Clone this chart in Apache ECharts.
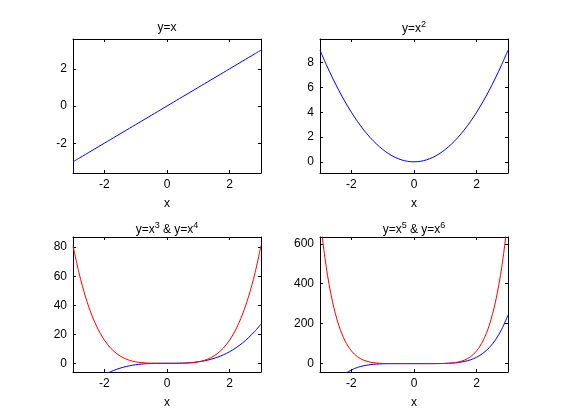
<!DOCTYPE html>
<html>
<head>
<meta charset="utf-8">
<script src="https://cdn.jsdelivr.net/npm/echarts@6/dist/echarts.min.js"></script>
<style>
html,body{margin:0;padding:0;background:#fff;}
#chart{width:561px;height:420px;}
</style>
</head>
<body>
<div id="chart"></div>
<script>
// Sample x positions
var xValues = [-3,-2.8,-2.6,-2.4,-2.2,-2,-1.8,-1.6,-1.4,-1.2,-1,-0.8,-0.6,-0.4,-0.2,0,0.2,0.4,0.6,0.8,1,1.2,1.4,1.6,1.8,2,2.2,2.4,2.6,2.8,3];
// y = x
var y1 = [-3,-2.8,-2.6,-2.4,-2.2,-2,-1.8,-1.6,-1.4,-1.2,-1,-0.8,-0.6,-0.4,-0.2,0,0.2,0.4,0.6,0.8,1,1.2,1.4,1.6,1.8,2,2.2,2.4,2.6,2.8,3];
// y = x^2
var y2 = [9,7.84,6.76,5.76,4.84,4,3.24,2.56,1.96,1.44,1,0.64,0.36,0.16,0.04,0,0.04,0.16,0.36,0.64,1,1.44,1.96,2.56,3.24,4,4.84,5.76,6.76,7.84,9];
// y = x^3
var y3 = [-27,-21.95,-17.58,-13.82,-10.65,-8,-5.83,-4.1,-2.74,-1.73,-1,-0.51,-0.22,-0.06,-0.01,0,0.01,0.06,0.22,0.51,1,1.73,2.74,4.1,5.83,8,10.65,13.82,17.58,21.95,27];
// y = x^4
var y4 = [81,61.47,45.7,33.18,23.43,16,10.5,6.55,3.84,2.07,1,0.41,0.13,0.03,0,0,0,0.03,0.13,0.41,1,2.07,3.84,6.55,10.5,16,23.43,33.18,45.7,61.47,81];
// y = x^5
var y5 = [-243,-172.1,-118.81,-79.63,-51.54,-32,-18.9,-10.49,-5.38,-2.49,-1,-0.33,-0.08,-0.01,0,0,0,0.01,0.08,0.33,1,2.49,5.38,10.49,18.9,32,51.54,79.63,118.81,172.1,243];
// y = x^6
var y6 = [729,481.89,308.92,191.1,113.38,64,34.01,16.78,7.53,2.99,1,0.26,0.05,0,0,0,0,0,0.05,0.26,1,2.99,7.53,16.78,34.01,64,113.38,191.1,308.92,481.89,729];

var xTicks = [-2,0,2];
var yTicks1 = [-2,0,2];
var yTicks2 = [0,2,4,6,8];
var yTicks3 = [0,20,40,60,80];
var yTicks4 = [0,200,400,600];

var FONT = 'Liberation Sans, Arial, Helvetica, sans-serif';

function pairs(xs, ys){ return xs.map(function(x,i){ return [x, ys[i]]; }); }

var grids = [
  {left:73, top:39, width:188, height:134},
  {left:320, top:39, width:188, height:134},
  {left:73, top:237, width:188, height:135},
  {left:320, top:237, width:188, height:135}
];
var yRanges = [[-3.6,3.6],[-0.9,9.9],[-6,87],[-42,634]];
var yTickSets = [yTicks1,yTicks2,yTicks3,yTicks4];

var xAxes = [], yAxes = [];
grids.forEach(function(g, i){
  xAxes.push({
    type:'value', gridIndex:i, min:-3, max:3, position:'bottom',
    name:'x', nameLocation:'middle', nameGap:25,
    nameTextStyle:{color:'#000', fontSize:12, fontFamily:FONT},
    axisLine:{show:true, onZero:false, lineStyle:{color:'#000', width:1}},
    axisTick:{show:true, inside:true, length:3, customValues:xTicks, lineStyle:{color:'#000'}},
    axisLabel:{show:true, customValues:xTicks, margin:6, color:'#000', fontSize:12, fontFamily:FONT},
    splitLine:{show:false}
  });
  xAxes.push({
    type:'value', gridIndex:i, min:-3, max:3, position:'top',
    axisLine:{show:true, onZero:false, lineStyle:{color:'#000', width:1}},
    axisTick:{show:true, inside:true, length:3, customValues:xTicks, lineStyle:{color:'#000'}},
    axisLabel:{show:false}, splitLine:{show:false}
  });
  yAxes.push({
    type:'value', gridIndex:i, min:yRanges[i][0], max:yRanges[i][1], position:'left',
    axisLine:{show:true, onZero:false, lineStyle:{color:'#000', width:1}},
    axisTick:{show:true, inside:true, length:3, customValues:yTickSets[i], lineStyle:{color:'#000'}},
    axisLabel:{show:true, customValues:yTickSets[i], margin:6, color:'#000', fontSize:12, fontFamily:FONT},
    splitLine:{show:false}
  });
  yAxes.push({
    type:'value', gridIndex:i, min:yRanges[i][0], max:yRanges[i][1], position:'right',
    axisLine:{show:true, onZero:false, lineStyle:{color:'#000', width:1}},
    axisTick:{show:true, inside:true, length:3, customValues:yTickSets[i], lineStyle:{color:'#000'}},
    axisLabel:{show:false}, splitLine:{show:false}
  });
});

function line(gi, ys, color){
  return {
    type:'line', xAxisIndex:gi*2, yAxisIndex:gi*2, data:pairs(xValues, ys),
    showSymbol:false, symbol:'none', smooth:0.3, clip:true, animation:false,
    lineStyle:{color:color, width:1}, silent:true
  };
}

var titleStyle = {
  color:'#000', fontSize:12, fontWeight:'normal', fontFamily:FONT, lineHeight:18,
  rich:{
    sup:{fontSize:9, fontFamily:FONT, color:'#000', lineHeight:9, verticalAlign:'top'}
  }
};

var titles = [
  {text:'y=x', cx:167, y:19},
  {text:'y=x{sup|2}', cx:414, y:20},
  {text:'y=x{sup|3} & y=x{sup|4}', cx:167, y:221},
  {text:'y=x{sup|5} & y=x{sup|6}', cx:414, y:221}
].map(function(t){
  return {text:t.text, left:t.cx, top:t.y, textAlign:'center', textStyle:titleStyle, padding:0};
});

var chart = echarts.init(document.getElementById('chart'), null, {renderer:'canvas'});
chart.setOption({
  backgroundColor:'#fff',
  animation:false,
  title:titles,
  grid:grids.map(function(g){ return Object.assign({show:false, containLabel:false}, g); }),
  xAxis:xAxes,
  yAxis:yAxes,
  series:[
    line(0, y1, '#0000ff'),
    line(1, y2, '#0000ff'),
    line(2, y3, '#0000ff'),
    line(2, y4, '#ff0000'),
    line(3, y5, '#0000ff'),
    line(3, y6, '#ff0000')
  ]
});
</script>
</body>
</html>
